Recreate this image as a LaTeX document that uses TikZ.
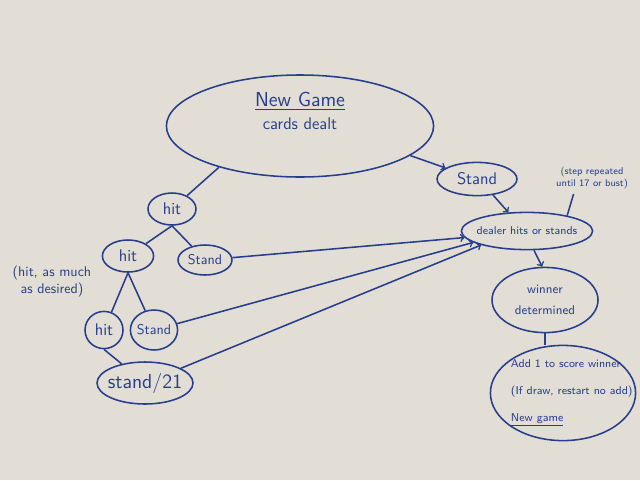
\documentclass[tikz,border=0pt]{standalone}
\usetikzlibrary{shapes.geometric,positioning}
\definecolor{ink}{RGB}{38,62,140}
\definecolor{board}{RGB}{226,222,213}
\tikzset{
  blob/.style={draw,ellipse,inner sep=0pt},
  txt/.style={text=ink,font=\sffamily,align=center},
}
\begin{document}
\begin{tikzpicture}[ink,line width=1.1pt]
        \fill[board] (0,0) rectangle (16,-12);
        \node[blob,minimum width=6.68cm,minimum height=2.55cm,label={[txt,yshift=0.38cm]center:{\Large\underline{New Game}\\[4pt]\large cards dealt}}] (game) at (7.5,-3.15) {};
        \node[blob,minimum width=2cm,minimum height=0.83cm,label={[txt]center:{\large Stand}}] (stand) at (11.925,-4.475) {};
        \node[blob,minimum width=3.28cm,minimum height=0.93cm,label={[txt]center:{\footnotesize dealer hits or stands}}] (dealer) at (13.175,-5.775) {};
        \node[blob,minimum width=2.65cm,minimum height=1.63cm,label={[txt]center:{\small winner\\[3pt]\small determined}}] (winner) at (13.625,-7.5) {};
        \node[blob,minimum width=3.63cm,minimum height=2.38cm,label={[txt,align=left,xshift=0.22cm]center:{\footnotesize Add 1 to score winner\\[7pt]\footnotesize (If draw, restart no add)\\[7pt]\footnotesize \underline{New game}}}] (add) at (14.075,-9.825) {};
        \node[txt,font=\sffamily\scriptsize] (stepnote) at (14.8,-4.45) {(step repeated\\until 17 or bust)};
        % the hit / stand tree
        \node[blob,minimum width=1.2cm,minimum height=0.8cm,label={[txt]center:{\large hit}}] (hitA) at (4.3,-5.225) {};
        \node[blob,minimum width=1.28cm,minimum height=0.8cm,label={[txt]center:{\large hit}}] (hitB) at (3.2,-6.4) {};
        \node[blob,minimum width=1.35cm,minimum height=0.75cm,label={[txt]center:{Stand}}] (standA) at (5.125,-6.5) {};
        \node[blob,minimum width=0.95cm,minimum height=0.93cm,label={[txt]center:{\large hit}}] (hitC) at (2.6,-8.25) {};
        \node[blob,minimum width=1.18cm,minimum height=1cm,label={[txt]center:{Stand}}] (standB) at (3.85,-8.25) {};
        \node[blob,minimum width=2.4cm,minimum height=1.05cm,label={[txt]center:{\Large stand/21}}] (stand21) at (3.625,-9.575) {};
        \node[txt] (hitnote) at (1.3,-7.03) {(hit, as much\\as desired)};
        \draw (game.207) -- (hitA);
        \draw[->] (game.-15) -- (stand);
        \draw[->] (stand.-45) -- (dealer.135);
        \draw (stepnote.221) -- (dealer.21);
        \draw (hitA.south) -- (hitB);
        \draw (hitA.south) -- (standA);
        \draw (hitB.south) -- (hitC);
        \draw (hitB.south) -- (standB);
        \draw (hitC.south) -- (stand21);
        \draw[->] (standA) -- (dealer.186);
        \draw[->] (standB) -- (dealer.192);
        \draw[->] (stand21) -- (dealer.197);
        \draw[->] (dealer.290) -- (winner.95);
        \draw (winner.south) -- (winner.south |- add.north);
      \end{tikzpicture}
\end{document}
